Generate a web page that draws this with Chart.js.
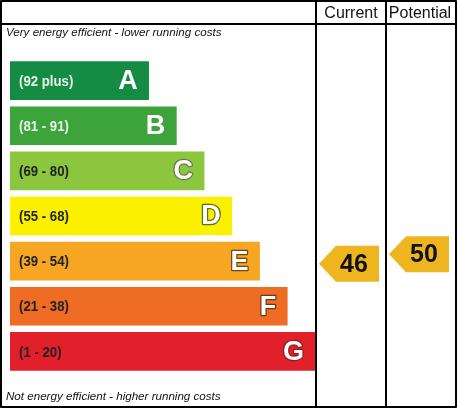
<!DOCTYPE html>
<html>
<head>
<meta charset="utf-8">
<script src="https://cdn.jsdelivr.net/npm/chart.js@4"></script>
<style>
  html, body { margin: 0; padding: 0; background: #fff; }
  #wrap { position: relative; width: 459px; height: 409px; }
</style>
</head>
<body>
<div id="wrap"><canvas id="c" width="459" height="409"></canvas></div>
<script>
// ---- data ----
const bands = ['A', 'B', 'C', 'D', 'E', 'F', 'G'];
const rangeLabels = ['(92 plus)', '(81 - 91)', '(69 - 80)', '(55 - 68)', '(39 - 54)', '(21 - 38)', '(1 - 20)'];
const bandLow = [92, 81, 69, 55, 39, 21, 1];
const bandHigh = [100, 91, 80, 68, 54, 38, 20];
const barLengths = [5, 6, 7, 8, 9, 10, 11];
const bandColors = ['#148c43', '#3ca43a', '#8cc63f', '#fbf000', '#f6a623', '#ee6c24', '#e2202b'];
const rangeTextColors = ['#e6f5e8', '#e6f5e8', '#222', '#222', '#222', '#222', '#222'];
const letterOutline = [null, null, '#6a7a50', '#6b6a20', '#6b4a15', '#6b3a15', '#8a2020'];
const ratingNames = ['Current', 'Potential'];
const ratingValues = [46, 50];
const topCaption = 'Very energy efficient - lower running costs';
const bottomCaption = 'Not energy efficient - higher running costs';

const COL1 = 316, COL2 = 386, RIGHT = 456;

const framePlugin = {
  id: 'frame',
  afterDraw(chart) {
    const ctx = chart.ctx;
    const meta = chart.getDatasetMeta(0);
    const yScale = chart.scales.y;
    ctx.save();
    // range labels and letters
    meta.data.forEach((el, i) => {
      ctx.textBaseline = 'middle';
      ctx.textAlign = 'left';
      ctx.save();
      ctx.translate(el.base + 9, el.y + 1);
      ctx.scale(0.88, 1);
      ctx.font = 'bold 15px "Liberation Sans", Arial, sans-serif';
      ctx.fillStyle = rangeTextColors[i];
      ctx.fillText(rangeLabels[i], 0, 0);
      ctx.restore();
      ctx.font = 'bold 27px "Liberation Sans", Arial, sans-serif';
      ctx.textAlign = 'right';
      const lx = el.x - 11, ly = el.y + 1;
      if (letterOutline[i]) {
        ctx.lineWidth = 2.5;
        ctx.strokeStyle = letterOutline[i];
        ctx.lineJoin = 'round';
        ctx.strokeText(bands[i], lx, ly);
      }
      ctx.fillStyle = '#ffffff';
      ctx.fillText(bands[i], lx, ly);
    });

    // rating arrows
    const cols = [[COL1, COL2], [COL2, RIGHT]];
    ratingValues.forEach((v, k) => {
      const bi = bandLow.findIndex((lo, j) => v >= lo && v <= bandHigh[j]);
      const el = meta.data[bi];
      const frac = (v - bandLow[bi] + 0.5) / (bandHigh[bi] - bandLow[bi] + 1);
      const cy = yScale.getPixelForValue(bi) - (frac - 0.5) * el.height + 1.5;
      const h = 36;
      const x0 = cols[k][0] + 3, x1 = cols[k][1] - 7;
      const tip = 17;
      ctx.beginPath();
      ctx.moveTo(x0, cy);
      ctx.lineTo(x0 + tip, cy - h / 2);
      ctx.lineTo(x1, cy - h / 2);
      ctx.lineTo(x1, cy + h / 2);
      ctx.lineTo(x0 + tip, cy + h / 2);
      ctx.closePath();
      ctx.fillStyle = '#efb520';
      ctx.fill();
      ctx.fillStyle = '#111';
      ctx.font = 'bold 25px "Liberation Sans", Arial, sans-serif';
      ctx.textAlign = 'center';
      ctx.textBaseline = 'middle';
      ctx.fillText(String(v), (x0 + x1) / 2 + 5, cy + 1);
    });

    // captions
    ctx.fillStyle = '#111';
    ctx.font = 'italic 11.6px "Liberation Sans", Arial, sans-serif';
    ctx.textAlign = 'left';
    ctx.textBaseline = 'middle';
    ctx.fillText(topCaption, 6, 33);
    ctx.fillText(bottomCaption, 6, 397);

    // headers
    ctx.font = '16px "Liberation Sans", Arial, sans-serif';
    ctx.textAlign = 'center';
    ctx.fillText(ratingNames[0], (COL1 + COL2) / 2, 13.5);
    ctx.fillText(ratingNames[1], (COL2 + RIGHT) / 2 - 1, 13.5);

    // frame lines
    ctx.strokeStyle = '#000';
    ctx.lineWidth = 2;
    ctx.strokeRect(1, 1, RIGHT - 1, 406);
    ctx.beginPath();
    ctx.moveTo(1, 24); ctx.lineTo(RIGHT, 24);
    ctx.moveTo(COL1, 1); ctx.lineTo(COL1, 407);
    ctx.moveTo(COL2, 1); ctx.lineTo(COL2, 407);
    ctx.stroke();
    ctx.restore();
  }
};

new Chart(document.getElementById('c'), {
  type: 'bar',
  data: {
    labels: bands,
    datasets: [{
      data: barLengths,
      backgroundColor: bandColors,
      borderWidth: 0,
      barThickness: 38
    }]
  },
  options: {
    indexAxis: 'y',
    responsive: false,
    animation: false,
    layout: { padding: { left: 10, right: 144, top: 58, bottom: 35 } },
    plugins: { legend: { display: false }, tooltip: { enabled: false } },
    scales: {
      x: { display: false, min: 0, max: 11 },
      y: { display: false }
    }
  },
  plugins: [framePlugin]
});
</script>
</body>
</html>
